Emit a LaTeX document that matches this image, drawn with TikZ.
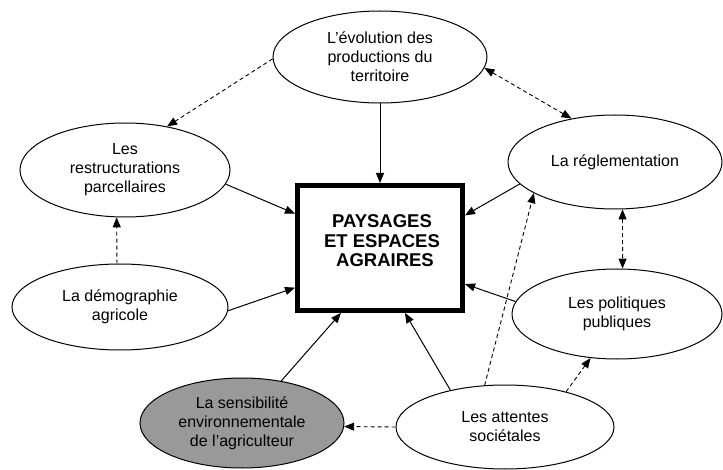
\documentclass[tikz,border=0pt]{standalone}
\usepackage{fontspec}
\setmainfont{Liberation Sans}
\usetikzlibrary{shapes.geometric,arrows.meta}
\definecolor{sensgray}{RGB}{153,153,153}
\begin{document}
\begin{tikzpicture}[x=1pt,y=-1pt,
  bub/.style={ellipse,draw,line width=1pt,inner sep=0pt,align=center,
    font=\fontsize{16}{19}\selectfont},
  tip/.style={Triangle[length=10pt,width=8pt]},
  sol/.style={line width=1pt,-{Triangle[length=10pt,width=8pt]}},
  dsh/.style={line width=0.9pt,dash pattern=on 4pt off 3pt,-{Triangle[length=10pt,width=8pt]}},
  dshb/.style={line width=0.9pt,dash pattern=on 4pt off 3pt,{Triangle[length=10pt,width=8pt]}-{Triangle[length=10pt,width=8pt]}}]
\useasboundingbox (0,0) rectangle (723,470);

\node[bub,minimum width=214pt,minimum height=92pt] (evo) at (380,57) {L’évolution des\\productions du\\territoire};
\node[bub,minimum width=210pt,minimum height=94pt] (restr) at (125,170) {Les\\restructurations\\parcellaires};
\node[bub,minimum width=216pt,minimum height=86pt] (demo) at (120,307) {La démographie\\agricole};
\node[bub,minimum width=214pt,minimum height=94pt] (regl) at (615,162) {La réglementation};
\node[bub,minimum width=210pt,minimum height=90pt] (poli) at (617,314) {Les politiques\\publiques};
\node[bub,fill=sensgray,minimum width=204pt,minimum height=90pt] (sens) at (242,423) {La sensibilité\\environnementale\\de l’agriculteur};
\node[bub,minimum width=218pt,minimum height=84pt] (att) at (505,427) {Les attentes\\sociétales};

\node[draw,line width=5pt,minimum width=165pt,minimum height=125pt] (box) at (380,248) {};
\node[font=\bfseries\fontsize{18.5}{19.5}\selectfont,align=center] (boxtxt) at (382,241) {PAYSAGES\\ET ESPACES\\\hspace*{6pt}AGRAIRES};

% solid arrows to the box
\draw[sol] (evo.south) -- (box.north);
\draw[sol] (restr.-8.2) -- (box.158.8);
\draw[sol] (demo.-2.7) -- (box.205.8);
\draw[sol] (sens.47.7) -- (box.239.7);
\draw[sol] (att.146.1) -- (box.-69);
\draw[sol] (regl.193.9) -- (box.21.2);
\draw[sol] (poli.173.5) -- (box.-23.5);

% dashed arrows
\draw[dsh] (evo.181.6) -- (restr.46.2);
\draw[dsh] (demo.94) -- (restr.260.3);
\draw[dshb] (evo.-6.9) -- (regl.135.6);
\draw[dshb] (regl.-81.3) -- (poli.83.7);
\draw[dsh] (att.116.6) -- (regl.201.2);
\draw[dsh] (att.30.4) -- (poli.239.8);
\draw[dsh] (att.180) -- (sens.-2.8);
\end{tikzpicture}
\end{document}
